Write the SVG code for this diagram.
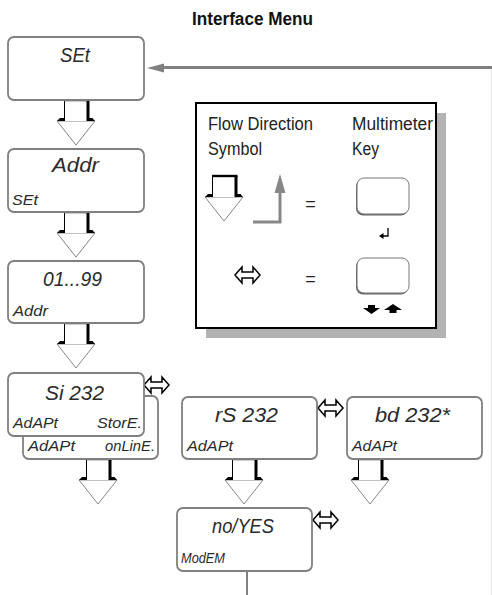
<svg xmlns="http://www.w3.org/2000/svg" xmlns:xlink="http://www.w3.org/1999/xlink" width="492" height="595" viewBox="0 0 492 595">
<style>
.box{fill:#fff;stroke:#808080;stroke-width:1.8}
.big{font-family:"Liberation Sans",Arial,sans-serif;font-style:italic;font-size:21px;fill:#2a2a2a}
.sm{font-family:"Liberation Sans",Arial,sans-serif;font-style:italic;font-size:14px;fill:#2a2a2a}
.lg{font-family:"Liberation Sans",Arial,sans-serif;font-size:18px;fill:#222}
.title{font-family:"Liberation Sans",Arial,sans-serif;font-weight:bold;font-size:18px;fill:#111}
.conn{fill:none;stroke:#808080;stroke-width:3}
.key{fill:#fff;stroke:#777;stroke-width:1}
.keysh{fill:#666}
</style>
<defs>
<g id="flow">
<polygon points="-7,21 31,21 12,45" fill="#fff" stroke="#666" stroke-width="0.8"/>
<rect x="0" y="0" width="24" height="21" fill="#fff"/>
<line x1="0.5" y1="0" x2="0.5" y2="19" stroke="#000" stroke-width="1"/>
<rect x="0" y="-1.2" width="25.5" height="2.4" fill="#000"/>
<path d="M22.5,0 H25.5 V18 H28.5 L31,21 H22.5 Z" fill="#000"/>
<path d="M-7,21 L-4,18 H1 V21 Z" fill="#000"/>
</g>
<path id="lr" d="M0,8 L7,0 V5 H18 V0 L25,8 L18,16 V11 H7 V16 Z" fill="#fff" stroke="#000" stroke-width="1.5" stroke-linejoin="miter"/>
</defs>

<text class="title" x="192" y="25" textLength="121" lengthAdjust="spacingAndGlyphs">Interface Menu</text>

<g id="connectors">
<line x1="491.5" y1="68" x2="491.5" y2="595" stroke="#e6e6e6" stroke-width="1"/>
<line class="conn" x1="492" y1="67.5" x2="160" y2="67.5"/>
<polygon points="147,68 164,63.5 164,72.5" fill="#808080"/>
<line x1="247" y1="571" x2="247" y2="595" stroke="#808080" stroke-width="2"/>
<use xlink:href="#flow" transform="translate(64,100)"/>
<use xlink:href="#flow" transform="translate(64,212)"/>
<use xlink:href="#flow" transform="translate(64,323)"/>
<use xlink:href="#flow" transform="translate(86,459)"/>
<use xlink:href="#flow" transform="translate(232,459)"/>
<use xlink:href="#flow" transform="translate(358,459)"/>
<use xlink:href="#lr" transform="translate(144,377)"/>
<use xlink:href="#lr" transform="translate(318,400)"/>
<use xlink:href="#lr" transform="translate(313,512)"/>
</g>

<g id="node-set">
<rect class="box" x="8" y="37" width="136" height="63" rx="6"/>
<text class="big" x="60" y="62" textLength="30" lengthAdjust="spacingAndGlyphs">SEt</text>
</g>
<g id="node-addr">
<rect class="box" x="8" y="149" width="136" height="63" rx="6"/>
<text class="big" x="52" y="172" textLength="47" lengthAdjust="spacingAndGlyphs">Addr</text>
<text class="sm" x="12" y="205" textLength="26" lengthAdjust="spacingAndGlyphs">SEt</text>
</g>
<g id="node-0199">
<rect class="box" x="8" y="261" width="136" height="62" rx="6"/>
<text class="big" x="43" y="286" textLength="59" lengthAdjust="spacingAndGlyphs">01...99</text>
<text class="sm" x="13" y="316" textLength="35" lengthAdjust="spacingAndGlyphs">Addr</text>
</g>
<g id="node-online">
<rect class="box" x="23" y="396" width="135" height="63" rx="6"/>
<text class="sm" x="28" y="451" textLength="47" lengthAdjust="spacingAndGlyphs">AdAPt</text>
<text class="sm" x="105" y="451" textLength="50" lengthAdjust="spacingAndGlyphs">onLinE.</text>
</g>
<g id="node-si232">
<rect class="box" x="8" y="373" width="136" height="63" rx="6"/>
<text class="big" x="45" y="400" textLength="59" lengthAdjust="spacingAndGlyphs">Si 232</text>
<text class="sm" x="13" y="428" textLength="45" lengthAdjust="spacingAndGlyphs">AdAPt</text>
<text class="sm" x="97" y="428" textLength="45" lengthAdjust="spacingAndGlyphs">StorE.</text>
</g>
<g id="node-rs232">
<rect class="box" x="182" y="397" width="135" height="62" rx="6"/>
<text class="big" x="215" y="422" textLength="63" lengthAdjust="spacingAndGlyphs">rS 232</text>
<text class="sm" x="187" y="451" textLength="46" lengthAdjust="spacingAndGlyphs">AdAPt</text>
</g>
<g id="node-bd232">
<rect class="box" x="347" y="397" width="135" height="62" rx="6"/>
<text class="big" x="375" y="422" textLength="75" lengthAdjust="spacingAndGlyphs">bd 232*</text>
<text class="sm" x="352" y="451" textLength="45" lengthAdjust="spacingAndGlyphs">AdAPt</text>
</g>
<g id="node-modem">
<rect class="box" x="177" y="508" width="135" height="63" rx="6"/>
<text class="big" x="212" y="533" textLength="62" lengthAdjust="spacingAndGlyphs">no/YES</text>
<text class="sm" x="181" y="563" textLength="44" lengthAdjust="spacingAndGlyphs">ModEM</text>
</g>

<g id="legend">
<rect x="206" y="113" width="240" height="225" fill="#b3b3b3"/>
<rect x="196" y="103" width="240" height="225" fill="#fff" stroke="#000" stroke-width="2"/>
<text class="lg" x="208" y="130" textLength="105" lengthAdjust="spacingAndGlyphs">Flow Direction</text>
<text class="lg" x="208" y="155" textLength="54" lengthAdjust="spacingAndGlyphs">Symbol</text>
<text class="lg" x="352" y="130" textLength="81" lengthAdjust="spacingAndGlyphs">Multimeter</text>
<text class="lg" x="352" y="155" textLength="27" lengthAdjust="spacingAndGlyphs">Key</text>
<use xlink:href="#flow" transform="translate(212,176)"/>
<path d="M253,222 H280 V191" fill="none" stroke="#888" stroke-width="3"/>
<polygon points="280,174 274.5,193 285.5,193" fill="#888"/>
<text class="lg" x="310.5" y="210" text-anchor="middle" font-size="20">=</text>
<text class="lg" x="310.5" y="285" text-anchor="middle" font-size="20">=</text>
<use xlink:href="#lr" transform="translate(235,267)"/>
<rect class="keysh" x="356" y="179.5" width="52" height="36" rx="7"/>
<rect class="key" x="357" y="178" width="52" height="36" rx="7"/>
<path d="M388,228 V236 H383" fill="none" stroke="#000" stroke-width="1.3"/>
<polygon points="379,236 383.5,233 383.5,239" fill="#000"/>
<rect class="keysh" x="356" y="259.5" width="52" height="35" rx="7"/>
<rect class="key" x="357" y="258" width="52" height="35" rx="7"/>
<path d="M368,305 H375 V308 H380 L371.5,314 L363,308 H368 Z" fill="#000"/>
<path d="M389.5,313 H396.5 V310 H402 L393,304 L384,310 H389.5 Z" fill="#000"/>
</g>
</svg>
